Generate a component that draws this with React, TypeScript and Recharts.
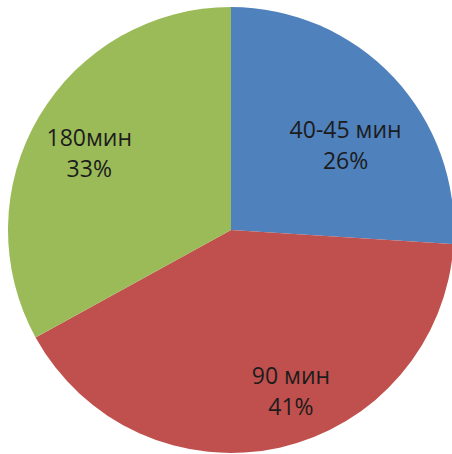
import { Cell, Pie, PieChart } from 'recharts'

const CATEGORIES = ['40-45 мин', '90 мин', '180мин']
const SHARES = [26, 41, 33]
const COLORS = ['#4F81BD', '#C0504D', '#9BBB59']

const data = CATEGORIES.map((name, i) => ({ name, value: SHARES[i] }))

const RADIAN = Math.PI / 180
// small nudges so labels sit where Excel's "best fit" put them
const NUDGE: Record<string, [number, number]> = {
  '40-45 мин': [-2, 25],
  '90 мин': [25, 5],
  '180мин': [-4, 5],
}

function renderLabel(props: any) {
  const { cx, cy, midAngle, name, value } = props
  const r = 160
  const [nx, ny] = NUDGE[name] ?? [0, 0]
  const x = cx + r * Math.cos(-midAngle * RADIAN) + nx
  const y = cy + r * Math.sin(-midAngle * RADIAN) + ny
  return (
    <text
      x={x}
      y={y}
      textAnchor="middle"
      fill="#1c1c1c"
      fontFamily="'Open Sans', sans-serif"
      fontSize={23}
    >
      <tspan x={x} dy={-7.5}>
        {name}
      </tspan>
      <tspan x={x} dy={31}>
        {value}%
      </tspan>
    </text>
  )
}

export default function App() {
  return (
    <div style={{ position: 'absolute', left: 0, top: 0, background: '#fff' }}>
      <PieChart width={452} height={454} margin={{ top: 0, right: 0, bottom: 0, left: 0 }}>
        <Pie
          data={data}
          dataKey="value"
          nameKey="name"
          cx={231}
          cy={230}
          outerRadius={223}
          startAngle={90}
          endAngle={-270}
          stroke="none"
          label={renderLabel}
          labelLine={false}
          isAnimationActive={false}
        >
          {data.map((d, i) => (
            <Cell key={d.name} fill={COLORS[i]} />
          ))}
        </Pie>
      </PieChart>
    </div>
  )
}
